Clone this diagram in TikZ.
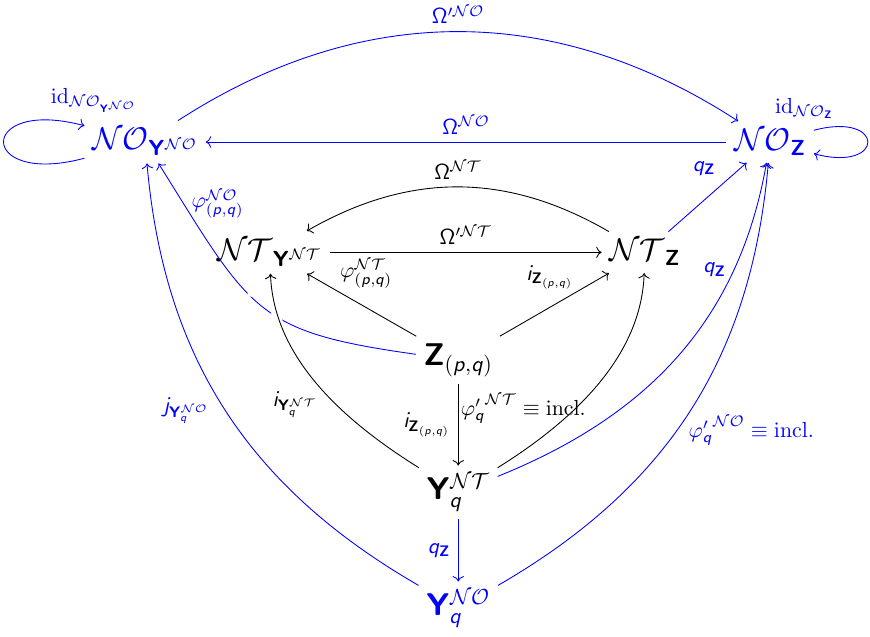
\documentclass[tikz,border=0pt]{standalone}
\usepackage{amsmath,amssymb,amsfonts}
\usepackage{mathtools}
\usepackage{tikz}
\usetikzlibrary{arrows.meta,calc}

\DeclareMathAlphabet{\mathbsf}{OT1}{cmss}{bx}{n}
\DeclareMathAlphabet{\mathsfit}{OT1}{cmss}{m}{it}
\newcommand{\NO}{\mathcal{NO}}
\newcommand{\NT}{\mathcal{NT}}
\newcommand{\bY}{\mathbsf{Y}}
\newcommand{\bZ}{\mathbsf{Z}}
\newcommand{\sq}{\mathsfit{q}}
\newcommand{\pq}{(\mathsfit{p},\mathsfit{q})}
\newcommand{\Om}{\mathsf{\Omega}}

\begin{document}
\begin{tikzpicture}[obj/.style={font=\Large},crossover/.style={preaction={draw,white,line width=4pt}}]
\useasboundingbox (0,0) rectangle (14.03,10.26);
\node[obj,blue] (NOY) at (2.34,7.97) {$\NO_{\bY^{\NO}}$};
\node[obj,blue] (NOZ) at (12.42,7.97) {$\NO_{\bZ}$};
\node[obj] (NTY) at (4.35,6.19) {$\NT_{\bY^{\NT}}$};
\node[obj] (NTZ) at (10.40,6.19) {$\NT_{\bZ}$};
\node[obj] (Z) at (7.39,4.45) {$\bZ_{\pq}$};
\node[obj] (YNT) at (7.39,2.32) {$\bY_{\sq}^{\NT}$};
\node[obj,blue] (YNO) at (7.39,0.45) {$\bY_{\sq}^{\NO}$};
\draw[->,blue] (NOY) to[out=195,in=165,distance=1.8cm] node[pos=0.85,above right]{$\mathrm{id}_{\NO_{\bY^{\NO}}}$} (NOY);
\draw[->,blue] (NOZ) to[out=15,in=-15,distance=1.2cm] node[pos=0.15,above left]{$\mathrm{id}_{\NO_{\bZ}}$} (NOZ);
\draw[->,blue] (NOY) to[bend left=33] node[above]{$\Om'^{\NO}$} (NOZ);
\draw[->,blue] (NOZ) -- node[above]{$\Om^{\NO}$} (NOY);
\draw[->] (NTZ) to[bend right=30] node[above]{$\Om^{\NT}$} (NTY);
\draw[->] (NTY) -- node[above]{$\Om'^{\NT}$} (NTZ);
\draw[->] (Z) -- node[pos=0.72,above right,inner sep=1pt]{$\varphi^{\NT}_{\pq}$} (NTY);
\draw[->] (Z) -- node[pos=0.7,above left,inner sep=1pt]{$\mathsfit{i}_{\bZ_{\pq}}$} (NTZ);
\draw[->,blue] (NTZ) -- node[pos=0.7,above left]{$\sq_{\bZ}$} (NOZ);
\draw[->,blue] (Z) to[out=172,in=-58,out looseness=1.3,in looseness=1.4] node[pos=0.9,right]{$\varphi^{\NO}_{\pq}$} (NOY);
\draw[->,crossover] (YNT) to[out=148,in=-88,looseness=0.9] node[pos=0.4,left=5pt]{$\mathsfit{i}_{\bY^{\NT}_{\sq}}$} (NTY);
\draw[->] (YNT) to[out=32,in=-92,looseness=0.9] (NTZ);
\draw[->] (Z) -- node[left]{$\mathsfit{i}_{\bZ_{\pq}}$} node[pos=0.3,right,inner sep=1pt]{${\varphi'_{\sq}}^{\NT}\equiv\mathrm{incl.}$} (YNT);
\draw[->,blue] (YNT) -- node[left]{$\sq_{\bZ}$} (YNO);
\draw[->,blue] (YNT) to[out=22,in=-100] node[pos=0.75,left]{$\sq_{\bZ}$} (NOZ);
\draw[->,blue] (YNO) to[out=150,in=-85] node[pos=0.5,left=4pt]{$\mathsfit{j}_{\bY^{\NO}_{\sq}}$} (NOY);
\draw[->,blue] (YNO) to[out=30,in=-95] node[pos=0.45,right=2pt]{${\varphi'_{\sq}}^{\NO}\equiv\mathrm{incl.}$} (NOZ);
\end{tikzpicture}
\end{document}
